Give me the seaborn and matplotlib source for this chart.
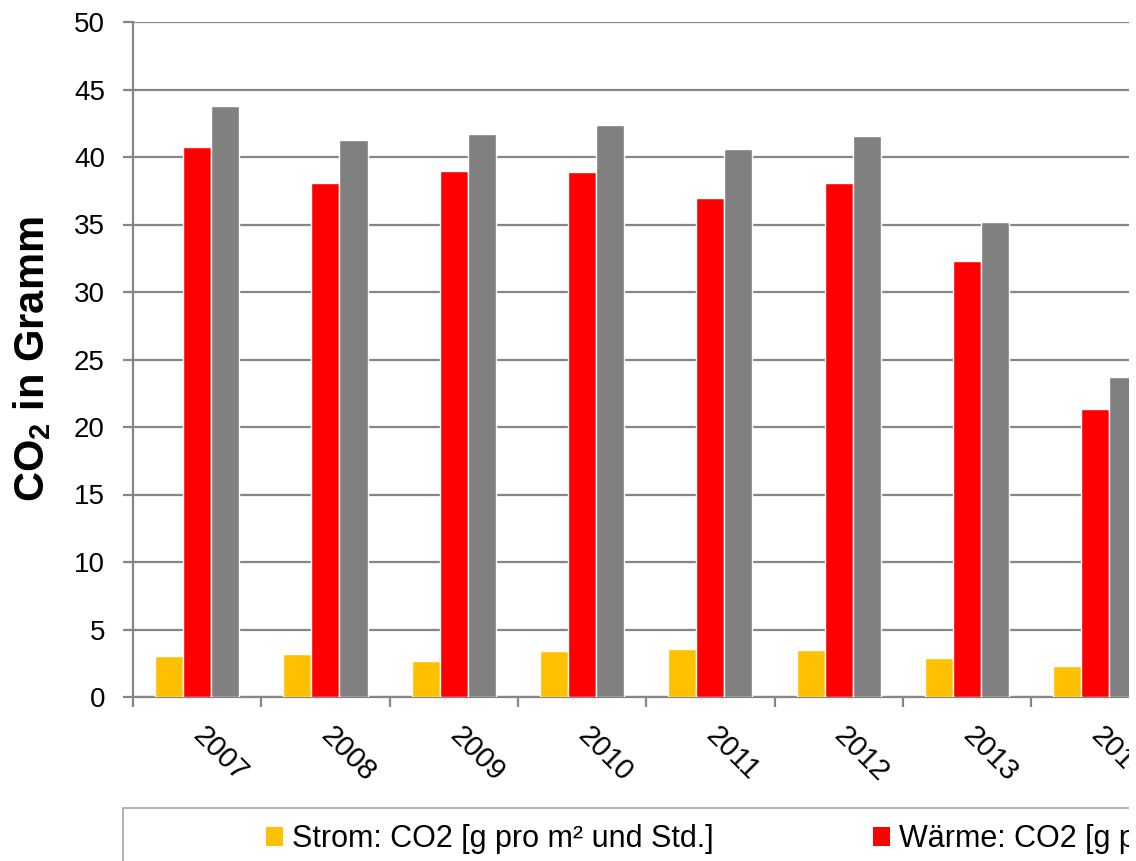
import matplotlib
matplotlib.use("Agg")
import matplotlib.pyplot as plt
import seaborn as sns
import pandas as pd
from matplotlib.patches import Patch, Rectangle

# data
years = ["2007", "2008", "2009", "2010", "2011", "2012", "2013", "2014"]
strom = [3.06, 3.18, 2.64, 3.43, 3.56, 3.48, 2.91, 2.32]
waerme = [40.75, 38.1, 39.0, 38.9, 37.0, 38.07, 32.3, 21.33]
gesamt = [43.8, 41.25, 41.7, 42.4, 40.6, 41.55, 35.2, 23.68]
series = ["Strom: CO2 [g pro m² und Std.]",
          "Wärme: CO2 [g pro m² und Std.]",
          "Gesamt: CO2 [g pro m² und Std.]"]
colors = ["#FFC000", "#FF0000", "#808080"]

df = pd.DataFrame({
    "year": years * 3,
    "series": [series[0]] * len(years) + [series[1]] * len(years) + [series[2]] * len(years),
    "value": strom + waerme + gesamt,
})

sns.set_style("white")
plt.rcParams["font.family"] = ["Liberation Sans", "DejaVu Sans"]
plt.rcParams["mathtext.fontset"] = "custom"
plt.rcParams["mathtext.rm"] = "Liberation Sans"
plt.rcParams["mathtext.bf"] = "Liberation Sans:bold"
for k in ["text.color", "axes.labelcolor", "xtick.labelcolor", "ytick.labelcolor"]:
    plt.rcParams[k] = "black"

W, H = 1136, 861
fig = plt.figure(figsize=(W / 100, H / 100), dpi=100)
x0, x1, y0, y1 = 133, 1129, 697, 22
ax = fig.add_axes([x0 / W, 1 - y0 / H, (x1 - x0) / W, (y0 - y1) / H])

grid_c = "#868686"
sns.barplot(data=df, x="year", y="value", hue="series", palette=colors,
            width=0.656, gap=0, saturation=1, legend=False, ax=ax, zorder=3)

ax.set_ylim(0, 50)
ax.set_yticks(range(0, 51, 5))
ax.yaxis.grid(True, color=grid_c, linewidth=1.6, zorder=0)
ax.set_axisbelow(True)

for s in ["top", "right"]:
    ax.spines[s].set_visible(False)
for s in ["left", "bottom"]:
    ax.spines[s].set_color(grid_c)
    ax.spines[s].set_linewidth(1.6)

ax.tick_params(axis="y", left=True, length=7.2, width=1.6, color=grid_c,
               labelsize=20, pad=13, direction="out")
# x ticks between categories
ax.set_xticks([i + 0.5 for i in range(-1, len(years))], minor=True)
ax.tick_params(axis="x", which="minor", bottom=True, length=7.2, width=1.6,
               color=grid_c, direction="out")
ax.tick_params(axis="x", which="major", bottom=False, length=0, pad=25)
ax.set_xticks(range(len(years)))
ax.set_xticklabels(years, rotation=-45, ha="left", va="center",
                   rotation_mode="anchor", fontsize=21)

# one category is 128.3 px wide in the original, last one is cropped
cat_px = 128.3
ax.set_xlim(-0.5, -0.5 + (x1 - x0) / cat_px)

ax.set_xlabel("")
ax.set_ylabel(r"CO$_\mathbf{2}$ in Gramm", fontsize=30, fontweight="bold",
              va="center")
ax.yaxis.set_label_coords(-0.101, 0.5)

# legend box (cropped at the right and bottom)
fig.patches.append(Rectangle((123 / W, -0.1), 1.2, 0.1 + 1 - 808 / H,
                             transform=fig.transFigure, facecolor="none",
                             edgecolor="#A6A6A6", linewidth=1.2))
handles = [Patch(facecolor=c, edgecolor="none") for c in colors]
fig.legend(handles, series, loc="center left", ncol=3, frameon=False,
           bbox_to_anchor=(266 / W, 1 - 839 / H), borderaxespad=0, borderpad=0,
           fontsize=22, handlelength=0.56, handleheight=0.59,
           handletextpad=0.3, columnspacing=5.2)

# white strip at the right edge like the cropped original
fig.patches.append(Rectangle((x1 / W, 0), 1, 1, transform=fig.transFigure,
                             facecolor="white", edgecolor="none", zorder=10))

fig.savefig("out.png", dpi=100)
plt.close()
